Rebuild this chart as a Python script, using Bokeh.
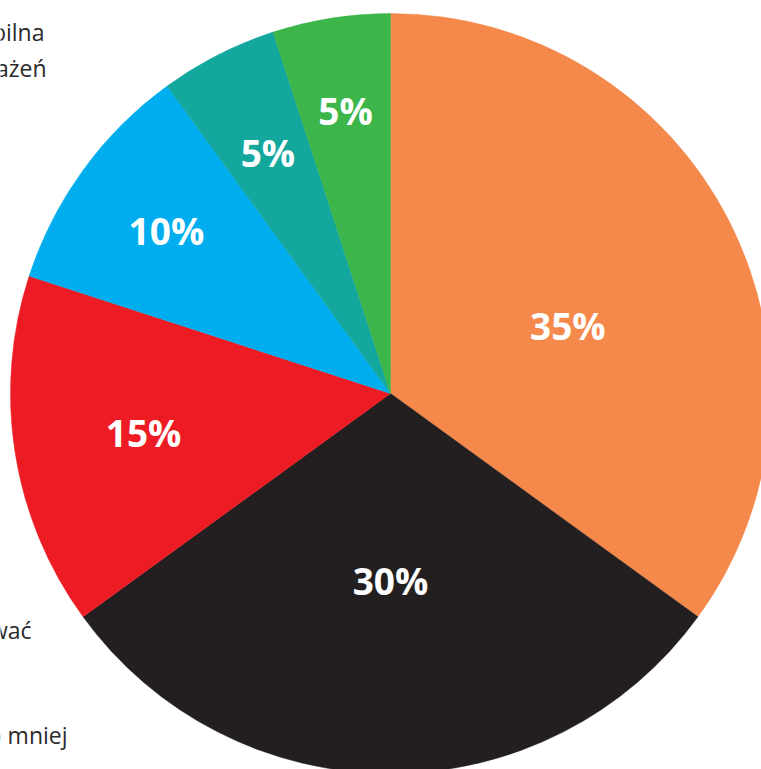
import numpy as np
from bokeh.plotting import figure
from bokeh.models import ColumnDataSource, Range1d
from bokeh.core.properties import value
from bokeh.embed import file_html
from bokeh.resources import INLINE

# data
labels = ["35%", "30%", "15%", "10%", "5%", "5%"]
values = [35, 30, 15, 10, 5, 5]
colors = ["#F4894B", "#231F20", "#ED1C24", "#00AEEF", "#14A79D", "#3CB54A"]
# side texts (only their right ends are visible)
side_texts = ["wersja mobilna", "wrażeń", "się zalogować", "raz lub  mniej"]

# layout / style (page pixels, y measured upward from bottom)
W, H = 761, 769
cx, cy, R = 390, H - 393, 380
label_r = [190, 187, 250, 277, 270, 287]
label_nudge = [-6, 0, 0, 0, 0, 0]  # degrees
side_x = [44, 46, 31, 73]
side_y = [H - 31, H - 67, H - 629, H - 734]

vals = np.array(values, dtype=float)
frac = vals / vals.sum()
ang = frac * 2 * np.pi
ends = np.pi / 2 - np.cumsum(ang)
starts = ends + ang
mids = (starts + ends) / 2 + np.radians(label_nudge)

src = ColumnDataSource(dict(
    start=ends, end=starts, color=colors,
    lx=cx + np.array(label_r) * np.cos(mids),
    ly=cy + np.array(label_r) * np.sin(mids),
    label=labels,
))

p = figure(width=W, height=H, x_range=Range1d(0, W), y_range=Range1d(0, H),
           output_backend="svg", toolbar_location=None, min_border=0)
p.axis.visible = False
p.grid.visible = False
p.outline_line_color = None
p.background_fill_color = "white"

p.wedge(x=cx, y=cy, radius=R, start_angle="start", end_angle="end",
        fill_color="color", line_color="color", line_width=0.5, source=src)

p.text(x="lx", y="ly", text="label", source=src, text_color="white",
       text_font=value("Open Sans"), text_font_style="bold",
       text_font_size="37px", text_align="center", text_baseline="middle")

side = ColumnDataSource(dict(x=side_x, y=side_y, t=side_texts))
p.text(x="x", y="y", text="t", source=side, text_color="#2b2b2b",
       text_font=value("Open Sans"), text_font_size="23px",
       text_align="right", text_baseline="alphabetic")

open("out.html", "w").write(file_html(p, INLINE))
